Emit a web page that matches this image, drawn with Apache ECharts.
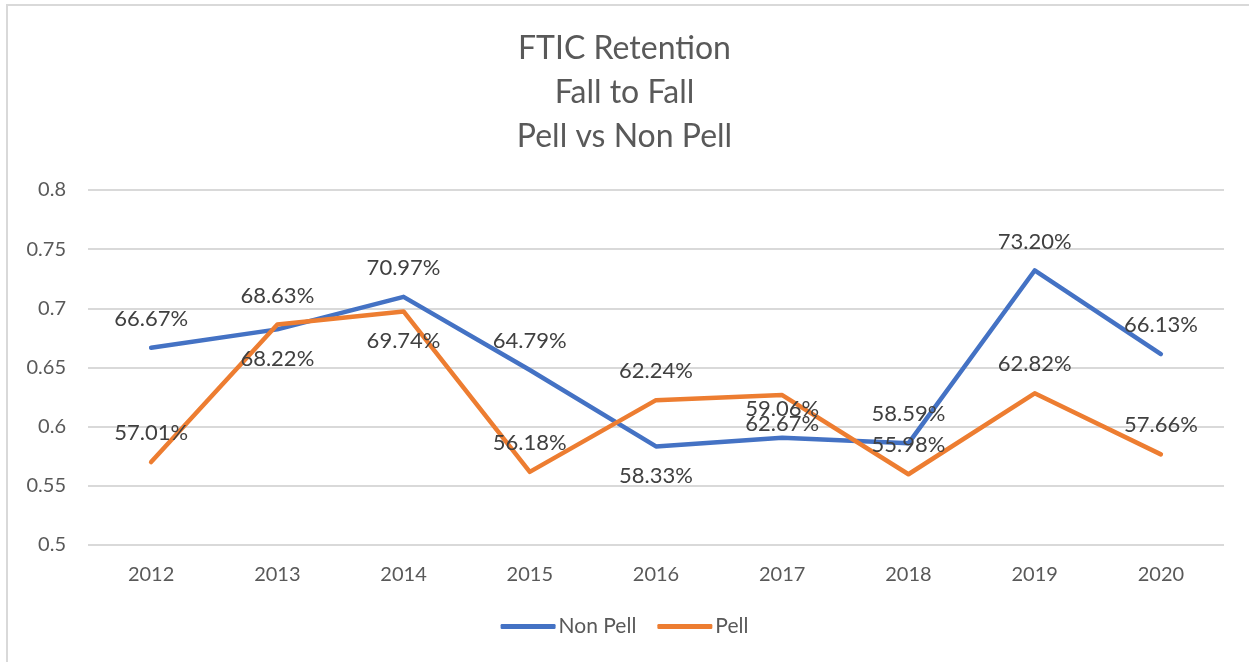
<!DOCTYPE html>
<html>
<head>
<meta charset="utf-8">
<script src="https://cdn.jsdelivr.net/npm/echarts@6/dist/echarts.min.js"></script>
<style>
  html, body { margin: 0; padding: 0; background: #fff; }
  #frame {
    position: absolute; left: 6px; top: 4px; right: 0; bottom: 0;
    border-left: 2px solid #d9d9d9; border-top: 2px solid #d9d9d9;
  }
  #chart { position: absolute; left: 0; top: 0; width: 1249px; height: 662px; }
</style>
</head>
<body>
<div id="frame"></div>
<div id="chart"></div>
<script>
const years = ["2012", "2013", "2014", "2015", "2016", "2017", "2018", "2019", "2020"];
const nonPell = [0.6667, 0.6822, 0.7097, 0.6479, 0.5833, 0.5906, 0.5859, 0.7320, 0.6613];
const pell = [0.5701, 0.6863, 0.6974, 0.5618, 0.6224, 0.6267, 0.5598, 0.6282, 0.5766];

// points whose label sits under the line (as in the original)
const nonPellBelow = [1, 4];
const pellBelow = [2, 5];

const textColor = "#595959";
const font = "Lato, 'Open Sans', sans-serif";

const toItems = (values, below) =>
  values.map((v, i) => ({
    value: v,
    label: { position: below.includes(i) ? "bottom" : "top" },
  }));

const chart = echarts.init(document.getElementById("chart"));

const labelStyle = {
  show: true,
  distance: 18,
  color: "#404040",
  fontSize: 22,
  fontFamily: font,
  formatter: (p) => (p.value * 100).toFixed(2) + "%",
};

const lineSeries = (name, values, below, color) => ({
  name,
  type: "line",
  data: toItems(values, below),
  showSymbol: true,
  symbol: "circle",
  symbolSize: 0.1,
  color,
  lineStyle: { width: 4.5, cap: "round", join: "round", color },
  label: labelStyle,
  emphasis: { disabled: true },
});

chart.setOption({
  animation: false,
  title: {
    text: "FTIC Retention\nFall to Fall\nPell vs Non Pell",
    left: "center",
    top: 22,
    textStyle: {
      color: textColor,
      fontSize: 32,
      fontWeight: "normal",
      fontFamily: font,
      lineHeight: 44,
    },
  },
  grid: { left: 88, right: 25, top: 190, bottom: 117 },
  legend: {
    bottom: 20,
    left: "center",
    icon: "roundRect",
    itemWidth: 55,
    itemHeight: 5,
    itemGap: 21,
    textStyle: { color: textColor, fontSize: 21, fontFamily: font, padding: [0, 0, 0, -2] },
    data: ["Non Pell", "Pell"],
  },
  xAxis: {
    type: "category",
    data: years,
    axisLine: { show: false },
    axisTick: { show: false },
    axisLabel: { color: textColor, fontSize: 20, fontFamily: font, margin: 20 },
  },
  yAxis: {
    type: "value",
    min: 0.5,
    max: 0.8,
    interval: 0.05,
    axisLabel: {
      color: textColor,
      fontSize: 20,
      fontFamily: font,
      margin: 22,
      formatter: (v) => String(parseFloat(v.toFixed(2))),
    },
    splitLine: { lineStyle: { color: "#d9d9d9", width: 2 } },
  },
  series: [
    lineSeries("Non Pell", nonPell, nonPellBelow, "#4472c4"),
    lineSeries("Pell", pell, pellBelow, "#ed7d31"),
  ],
});
</script>
</body>
</html>
